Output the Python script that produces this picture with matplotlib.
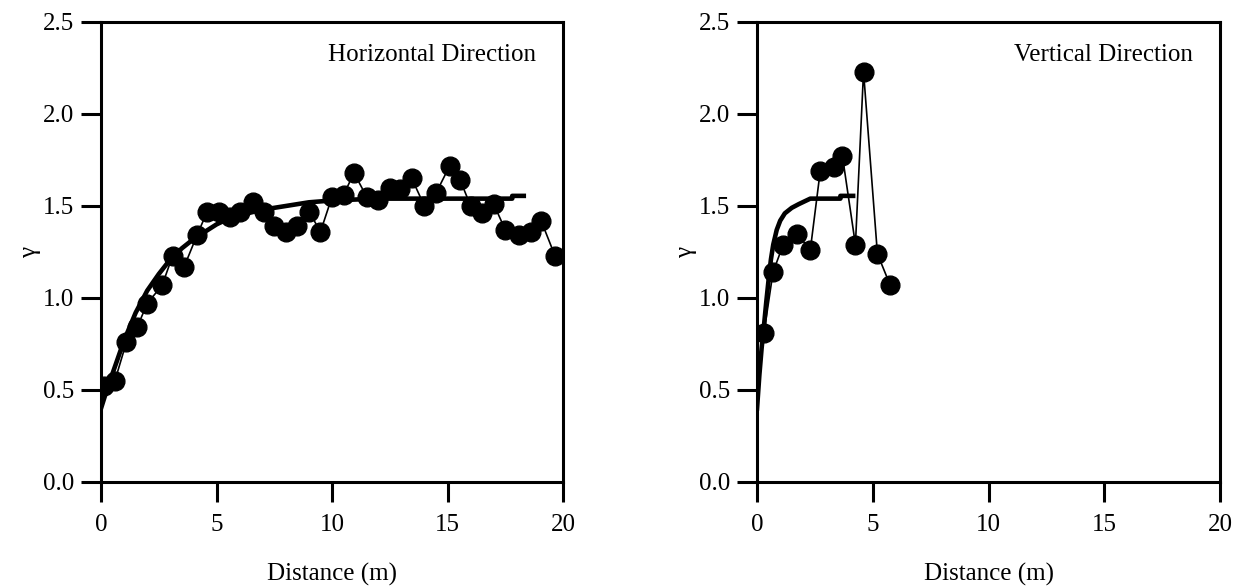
import matplotlib.pyplot as plt

plt.rcParams['font.family'] = ['Liberation Serif', 'DejaVu Serif']

# horizontal direction: experimental semivariogram
h_dist = [0.13, 0.6, 1.1, 1.56, 2.0, 2.65, 3.1, 3.6, 4.15, 4.6, 5.1, 5.6, 6.0, 6.6,
          7.05, 7.5, 8.0, 8.5, 9.0, 9.5, 10.0, 10.5, 10.95, 11.5, 12.0, 12.5, 12.95,
          13.45, 14.0, 14.5, 15.1, 15.55, 16.0, 16.5, 17.0, 17.5, 18.1, 18.6, 19.05, 19.65]
h_gamma = [0.52, 0.55, 0.76, 0.84, 0.97, 1.07, 1.23, 1.17, 1.34, 1.47, 1.47, 1.44, 1.47, 1.52,
           1.47, 1.39, 1.36, 1.39, 1.47, 1.36, 1.55, 1.56, 1.68, 1.55, 1.53, 1.60, 1.59,
           1.65, 1.50, 1.57, 1.72, 1.64, 1.50, 1.46, 1.51, 1.37, 1.34, 1.36, 1.42, 1.23]
# horizontal direction: fitted model
h_model_x = [0, 0.25, 0.5, 0.75, 1.0, 1.5, 2.0, 2.5, 3.0, 3.5, 4.0, 4.5, 5.0, 5.5, 6.0, 7.0,
             8.0, 9.0, 10.0, 12.0, 14.0, 17.8, 17.8, 18.3]
h_model_y = [0.40, 0.50, 0.59, 0.68, 0.77, 0.92, 1.04, 1.13, 1.21, 1.27, 1.32, 1.36, 1.40,
             1.43, 1.45, 1.48, 1.50, 1.52, 1.53, 1.54, 1.54, 1.54, 1.555, 1.555]

# vertical direction
v_dist = [0.3, 0.69, 1.13, 1.73, 2.3, 2.73, 3.34, 3.69, 4.25, 4.6, 5.2, 5.75]
v_gamma = [0.81, 1.14, 1.29, 1.35, 1.26, 1.69, 1.71, 1.77, 1.29, 2.23, 1.24, 1.07]
v_model_x = [0, 0.1, 0.2, 0.3, 0.4, 0.5, 0.6, 0.7, 0.85, 1.0, 1.2, 1.5, 1.8, 2.3, 3.6, 3.6, 4.15]
v_model_y = [0.40, 0.58, 0.73, 0.85, 0.98, 1.10, 1.21, 1.29, 1.37, 1.42, 1.46, 1.49, 1.51,
             1.54, 1.54, 1.555, 1.555]

fig = plt.figure(figsize=(12.38, 5.88), dpi=100)
ax1 = fig.add_axes([0.0816, 0.1803, 0.3732, 0.7823])
ax2 = fig.add_axes([0.6115, 0.1803, 0.3740, 0.7823])

panels = [
    (ax1, h_dist, h_gamma, h_model_x, h_model_y, 'Horizontal Direction'),
    (ax2, v_dist, v_gamma, v_model_x, v_model_y, 'Vertical Direction'),
]

for ax, x, y, mx, my, title in panels:
    ax.plot(x, y, '-o', color='black', lw=1.2, ms=13.5, zorder=3)
    ax.plot(mx, my, '-', color='black', lw=3.3, zorder=2)
    ax.set_xlim(0, 20)
    ax.set_ylim(0, 2.5)
    ax.set_xticks([0, 5, 10, 15, 20])
    ax.set_yticks([0, 0.5, 1.0, 1.5, 2.0, 2.5])
    ax.set_yticklabels(['0.0', '0.5', '1.0', '1.5', '2.0', '2.5'])
    ax.tick_params(direction='out', length=14.4, width=2.2, labelsize=18,
                   top=False, right=False)
    ax.tick_params(axis='x', pad=9)
    ax.tick_params(axis='y', pad=5)
    for s in ax.spines.values():
        s.set_linewidth(2.2)
    ax.set_xlabel('Distance (m)', fontsize=18, labelpad=19)
    ax.set_ylabel('γ', fontsize=18, labelpad=1)
    ax.text(0.942, 0.953, title, transform=ax.transAxes, ha='right', va='top', fontsize=18)

fig.savefig('out.png', dpi=100)
